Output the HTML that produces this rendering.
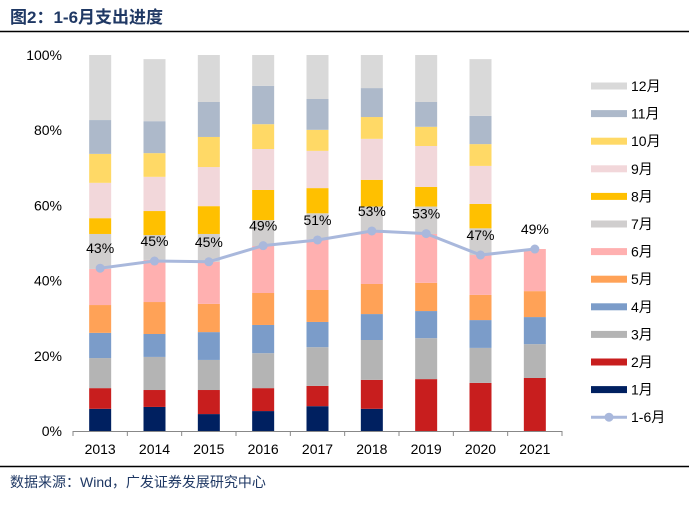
<!DOCTYPE html>
<html><head><meta charset="utf-8"><style>
body{margin:0;background:#fff;width:689px;height:507px;overflow:hidden;font-family:"Liberation Sans","Noto Sans CJK SC",sans-serif}
</style></head><body>
<svg id="c" width="689" height="507" xmlns="http://www.w3.org/2000/svg">
<text x="10" y="23" font-size="17" font-weight="bold" fill="#1f3864" font-family="Liberation Sans,Noto Sans CJK SC,sans-serif">图2：1-6月支出进度</text>
<line x1="0" y1="31.5" x2="689" y2="31.5" stroke="#000" stroke-width="1.5"/>
<line x1="0" y1="466.5" x2="689" y2="466.5" stroke="#000" stroke-width="1.5"/>
<text x="10" y="487" font-size="14" fill="#1f3864" font-family="Liberation Sans,Noto Sans CJK SC,sans-serif">数据来源：Wind，广发证券发展研究中心</text>
<g id="plot"></g>
</svg>
<script>
const years=["2013","2014","2015","2016","2017","2018","2019","2020","2021"];
const months=["1月","2月","3月","4月","5月","6月","7月","8月","9月","10月","11月","12月"];
const colors=["#002060","#c81e1e","#b4b4b4","#7b9cc9","#ffa257","#ffb0b0","#d0cece","#ffc000","#f2d7da","#ffd966","#adb9ca","#d9d9d9"];
// cumulative % at the top of each month
const cum2013=[5.9,11.4,19.4,26.1,33.5,43.1,52.4,56.6,66.0,73.7,82.7,100];
const cum2014=[6.4,10.9,19.7,25.8,34.3,45.5,52.1,58.5,67.6,73.9,82.4,98.9];
const cum2015=[4.5,10.9,18.9,26.3,33.8,45.0,52.4,59.8,70.2,78.2,87.5,100];
const cum2016=[5.3,11.4,20.7,28.2,36.7,49.2,56.1,64.1,75.0,81.6,91.8,100];
const cum2017=[6.6,12.0,22.3,29.0,37.5,51.0,57.9,64.6,74.5,80.1,88.3,100];
const cum2018=[5.9,13.6,24.2,31.1,39.1,53.2,59.7,66.8,77.7,83.5,91.2,100];
const cum2019=[0,13.8,24.7,31.9,39.4,52.4,59.7,64.9,75.8,80.9,87.5,100];
const cum2020=[0,12.8,22.1,29.5,36.2,46.8,53.9,60.4,70.5,76.3,83.8,98.9];
const cum2021=[0,14.1,23.1,30.3,37.2,48.4];
const cums=[cum2013,cum2014,cum2015,cum2016,cum2017,cum2018,cum2019,cum2020,cum2021];
const lineVals=[43.3,45.2,45.0,49.3,50.8,53.2,52.5,46.8,48.4];
const lineLabels=["43%","45%","45%","49%","51%","53%","53%","47%","49%"];
const yTicks=[0,20,40,60,80,100];

const NS="http://www.w3.org/2000/svg";
const g=document.getElementById("plot");
const X0=73,X1=562,Y0=431,Y1=55;
const step=(X1-X0)/years.length;
const xc=i=>X0+step*(i+0.5);
const y=v=>Y0-(v/100)*(Y0-Y1);
function mk(t,a){const e=document.createElementNS(NS,t);for(const k in a)e.setAttribute(k,a[k]);g.appendChild(e);return e;}

yTicks.forEach(v=>{
  const t=mk("text",{x:62,y:y(v)+5,"text-anchor":"end","font-size":14,fill:"#000"});
  t.textContent=v+"%";
  
  
});
cums.forEach((c,i)=>{
  let prev=0;
  c.forEach((v,m)=>{
    if(v>prev){
      const r=mk("rect",{x:xc(i)-11,y:y(v),width:22,height:y(prev)-y(v),fill:colors[m]});
      
      
    }
    prev=v;
  });
});
const ax=mk("line",{x1:X0,y1:Y0+0.5,x2:X1,y2:Y0+0.5,stroke:"#888"});


for(let i=0;i<=years.length;i++){
  const tk=mk("line",{x1:X0+step*i,y1:Y0,x2:X0+step*i,y2:Y0+5,stroke:"#888"});
  
  
}
years.forEach((yr,i)=>{
  const t=mk("text",{x:xc(i),y:454,"text-anchor":"middle","font-size":14,fill:"#000"});
  t.textContent=yr;
  
  
});
const pts=lineVals.map((v,i)=>xc(i)+","+y(v)).join(" ");
const pl=mk("polyline",{points:pts,fill:"none",stroke:"#a9b8dc","stroke-width":3});


lineVals.forEach((v,i)=>{
  const ci=mk("circle",{cx:xc(i),cy:y(v),r:4.5,fill:"#a9b8dc"});
  
  
  const t=mk("text",{x:xc(i),y:y(v)-15,"text-anchor":"middle","font-size":14,fill:"#000"});
  t.textContent=lineLabels[i];
  
  
});
for(let k=11;k>=0;k--){
  const ly=86+(11-k)*27.6;
  const r=mk("rect",{x:591,y:ly-3.5,width:36,height:7,fill:colors[k]});
  
  
  const t=mk("text",{x:631,y:ly+5,"font-size":14,fill:"#000"});
  t.textContent=months[k];
  
  
}
const ly=86+12*27.6;
const ll=mk("line",{x1:591,y1:ly,x2:627,y2:ly,stroke:"#a9b8dc","stroke-width":3});


const lc=mk("circle",{cx:609,cy:ly,r:4.5,fill:"#a9b8dc"});


const lt=mk("text",{x:631,y:ly+5,"font-size":14,fill:"#000"});
lt.textContent="1-6月";


</script>
</body></html>
